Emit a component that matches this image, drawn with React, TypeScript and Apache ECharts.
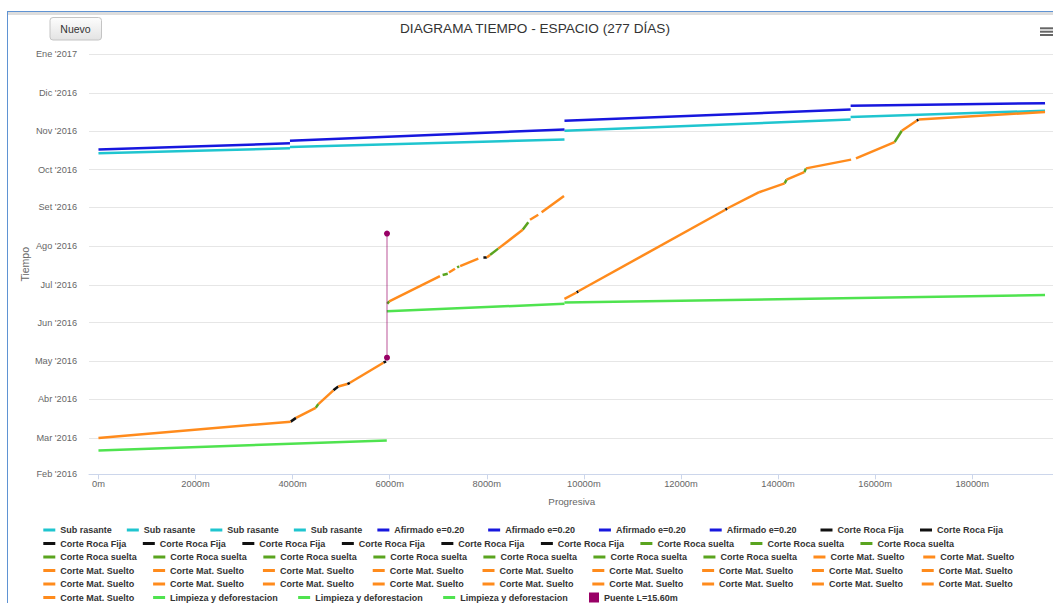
import { useEffect, useRef } from 'react';
import * as echarts from 'echarts';

const FONT = "'Liberation Sans', Arial, sans-serif";

const TITLE = 'DIAGRAMA TIEMPO - ESPACIO (277 DÍAS)';
const BUTTON_LABEL = 'Nuevo';
const X_NAME = 'Progresiva';
const Y_NAME = 'Tiempo';

const X_TICKS = [0, 2000, 4000, 6000, 8000, 10000, 12000, 14000, 16000, 18000];
const Y_TICK_DATES = [
  '2016-02-01', '2016-03-01', '2016-04-01', '2016-05-01', '2016-06-01', '2016-07-01',
  '2016-08-01', '2016-09-01', '2016-10-01', '2016-11-01', '2016-12-01', '2017-01-01',
];
const Y_TICK_LABELS = [
  "Feb '2016", "Mar '2016", "Abr '2016", "May '2016", "Jun '2016", "Jul '2016",
  "Ago '2016", "Set '2016", "Oct '2016", "Nov '2016", "Dic '2016", "Ene '2017",
];

type Pt = [number, string];

const SUB_RASANTE: Pt[][] = [
  [[0, '2016-10-14'], [3945, '2016-10-18']],
  [[3945, '2016-10-19'], [9600, '2016-10-25']],
  [[9600, '2016-11-01'], [15495, '2016-11-10']],
  [[15495, '2016-11-12'], [19500, '2016-11-17']],
];

const AFIRMADO: Pt[][] = [
  [[0, '2016-10-17'], [3945, '2016-10-22']],
  [[3945, '2016-10-24'], [9600, '2016-11-02']],
  [[9600, '2016-11-09'], [15495, '2016-11-18']],
  [[15495, '2016-11-21'], [19500, '2016-11-23']],
];

const ROCA_FIJA: Pt[][] = [
  [[3960, '2016-03-14'], [4070, '2016-03-17']],
  [[4840, '2016-04-08'], [4940, '2016-04-11']],
  [[5125, '2016-04-13'], [5180, '2016-04-14']],
  [[5870, '2016-04-30'], [5925, '2016-05-01']],
  [[7930, '2016-07-23'], [8000, '2016-07-23']],
  [[9850, '2016-06-25'], [9885, '2016-06-26']],
  [[12915, '2016-08-30'], [12950, '2016-08-31']],
  [[16855, '2016-11-09'], [16895, '2016-11-10']],
];

const ROCA_SUELTA: Pt[][] = [
  [[4475, '2016-03-25'], [4530, '2016-03-28']],
  [[5950, '2016-06-16'], [5990, '2016-06-18']],
  [[7090, '2016-07-09'], [7195, '2016-07-10']],
  [[7390, '2016-07-15'], [7430, '2016-07-16']],
  [[8065, '2016-07-25'], [8235, '2016-07-30']],
  [[8740, '2016-08-14'], [8855, '2016-08-20']],
  [[14135, '2016-09-20'], [14175, '2016-09-23']],
  [[14540, '2016-09-29'], [14575, '2016-10-02']],
  [[16400, '2016-10-23'], [16550, '2016-11-01']],
  [[9095, '2016-08-27']],
];

const MAT_SUELTO: Pt[][] = [
  [[0, '2016-03-01'], [3960, '2016-03-14']],
  [[4070, '2016-03-17'], [4475, '2016-03-25']],
  [[4530, '2016-03-28'], [4840, '2016-04-08']],
  [[4940, '2016-04-11'], [5125, '2016-04-13']],
  [[5180, '2016-04-14'], [5870, '2016-04-30']],
  [[5990, '2016-06-18'], [7035, '2016-07-08']],
  [[7220, '2016-07-11'], [7345, '2016-07-14']],
  [[7450, '2016-07-16'], [7825, '2016-07-22']],
  [[8000, '2016-07-23'], [8065, '2016-07-25']],
  [[8235, '2016-07-30'], [8740, '2016-08-14']],
  [[8890, '2016-08-22'], [9060, '2016-08-26']],
  [[9130, '2016-08-28'], [9590, '2016-09-10']],
  [[9600, '2016-06-20'], [9850, '2016-06-25']],
  [[9885, '2016-06-26'], [12915, '2016-08-30']],
  [[12950, '2016-08-31'], [13610, '2016-09-13']],
  [[13610, '2016-09-13'], [14135, '2016-09-20']],
  [[14175, '2016-09-23'], [14540, '2016-09-29']],
  [[14575, '2016-10-02'], [15505, '2016-10-09']],
  [[15605, '2016-10-10'], [16400, '2016-10-23']],
  [[16550, '2016-11-01'], [16855, '2016-11-09']],
  [[16895, '2016-11-10'], [19500, '2016-11-16']],
];

const LIMPIEZA: Pt[][] = [
  [[0, '2016-02-20'], [5940, '2016-02-28']],
  [[5940, '2016-06-10'], [9600, '2016-06-16']],
  [[9600, '2016-06-17'], [19500, '2016-06-23']],
];

const PUENTE_NAME = 'Puente L=15.60m';
const PUENTE: Pt[] = [[5944, '2016-05-04'], [5944, '2016-08-11']];

const GROUPS = [
  { label: 'Sub rasante', color: '#1fc5cf', segs: SUB_RASANTE },
  { label: 'Afirmado e=0.20', color: '#1717de', segs: AFIRMADO },
  { label: 'Corte Roca Fija', color: '#111111', segs: ROCA_FIJA },
  { label: 'Corte Roca suelta', color: '#5aa41f', segs: ROCA_SUELTA },
  { label: 'Corte Mat. Suelto', color: '#ff8b1c', segs: MAT_SUELTO },
  { label: 'Limpieza y deforestacion', color: '#4fe34f', segs: LIMPIEZA },
];

function ts(s: string): number {
  const [y, m, d] = s.split('-').map(Number);
  return new Date(y, m - 1, d).getTime();
}

const toXY = (seg: Pt[]) => seg.map(([x, d]) => [x, ts(d)]);

function buildOption() {
  const series: any[] = [];
  const lineNames: string[] = [];
  GROUPS.forEach((g) => {
    g.segs.forEach((seg, i) => {
      const name = `${g.label}#${i + 1}`;
      lineNames.push(name);
      series.push({
        type: 'line',
        name,
        data: toXY(seg),
        showSymbol: false,
        symbol: 'none',
        lineStyle: { color: g.color, width: 2.5 },
        itemStyle: { color: g.color },
        emphasis: { disabled: true },
        silent: true,
      });
    });
  });
  series.push({
    type: 'line',
    name: PUENTE_NAME,
    data: toXY(PUENTE),
    showSymbol: true,
    symbol: 'circle',
    symbolSize: 6,
    lineStyle: { color: 'rgba(153,0,102,0.45)', width: 1.5 },
    itemStyle: { color: '#990066' },
    emphasis: { disabled: true },
    silent: true,
    z: 5,
  });

  const base = (n: string) => n.split('#')[0];
  const PAD: Record<string, number> = {
    'Afirmado e=0.20': 9,
    'Corte Roca Fija': 1.5,
    'Corte Roca suelta': 1.5,
    'Corte Mat. Suelto': 3.8,
    'Limpieza y deforestacion': 5.5,
  };
  const rows = [10, 9, 9, 9, 9, 4];
  const rowCenters = [530, 543.5, 557, 570.5, 584, 597.5];
  const legendText = { fontSize: 9, fontWeight: 'bold', color: '#333333', fontFamily: FONT };
  let k = 0;
  const legends: any[] = rows.map((cnt, r) => {
    const names = lineNames.slice(k, k + cnt);
    k += cnt;
    return {
      orient: 'horizontal',
      left: 35.3,
      top: rowCenters[r] - 4.5,
      width: 1015,
      padding: 0,
      itemWidth: 12,
      itemHeight: 3,
      itemGap: 15,
      icon: 'rect',
      selectedMode: false,
      formatter: base,
      itemStyle: { borderWidth: 0 },
      textStyle: legendText,
      data: names.map((n) => ({
        name: n,
        textStyle: { padding: [0, PAD[base(n)] || 0, 0, 0], backgroundColor: 'rgba(255,255,255,0)' },
      })),
    };
  });
  legends.push({
    orient: 'horizontal',
    left: 581,
    top: 597.5 - 5,
    padding: 0,
    itemWidth: 10,
    itemHeight: 10,
    icon: 'rect',
    selectedMode: false,
    textStyle: legendText,
    data: [{ name: PUENTE_NAME, itemStyle: { color: '#990066', borderWidth: 0 } }],
  });

  const tickTs = Y_TICK_DATES.map(ts);
  const yLabel = (v: number) => {
    let best = 0;
    tickTs.forEach((t, i) => {
      if (Math.abs(t - v) < Math.abs(tickTs[best] - v)) best = i;
    });
    return Y_TICK_LABELS[best];
  };

  return {
    animation: false,
    textStyle: { fontFamily: FONT },
    title: {
      text: TITLE,
      left: 'center',
      top: 21,
      padding: 0,
      textStyle: { fontSize: 13.6, fontWeight: 'normal', color: '#333333', fontFamily: FONT },
    },
    legend: legends,
    grid: { left: 81, right: 7.5, top: 54.3, bottom: 128.7, containLabel: false, outerBoundsMode: 'none' },
    xAxis: {
      type: 'value',
      min: -195,
      max: 19695,
      position: 'bottom',
      name: X_NAME,
      nameLocation: 'middle',
      nameGap: 22.5,
      nameMoveOverlap: false,
      nameTextStyle: { fontSize: 9.8, color: '#666666', fontFamily: FONT },
      axisLine: { show: true, onZero: false, lineStyle: { color: '#ccd6eb', width: 1 } },
      axisTick: { show: true, customValues: X_TICKS, length: 5, lineStyle: { color: '#ccd6eb' } },
      axisLabel: {
        customValues: X_TICKS,
        formatter: (v: number) => `${v}m`,
        fontSize: 9.3,
        color: '#666666',
        margin: 5,
        fontFamily: FONT,
      },
      splitLine: { show: false },
    },
    yAxis: {
      type: 'value',
      min: tickTs[0],
      max: tickTs[tickTs.length - 1],
      name: Y_NAME,
      nameLocation: 'middle',
      nameGap: 59,
      nameMoveOverlap: false,
      nameTextStyle: { fontSize: 10.5, color: '#666666', fontFamily: FONT },
      axisLine: { show: false },
      axisTick: { show: false, customValues: tickTs },
      axisLabel: {
        customValues: tickTs,
        formatter: yLabel,
        fontSize: 9.2,
        color: '#666666',
        margin: 12,
        padding: [0, 0, 2, 0],
        fontFamily: FONT,
      },
      splitLine: { show: true, lineStyle: { color: '#e6e6e6', width: 1 } },
    },
    graphic: [
      {
        type: 'rect',
        shape: { x: 42, y: 17.5, width: 51.5, height: 22.5, r: 3 },
        style: {
          fill: new echarts.graphic.LinearGradient(0, 0, 0, 1, [
            { offset: 0, color: '#fdfdfd' },
            { offset: 1, color: '#e3e3e3' },
          ]),
          stroke: '#c4c4c4',
          lineWidth: 1,
        },
        silent: true,
      },
      {
        type: 'text',
        x: 67.5,
        y: 28.7,
        style: {
          text: BUTTON_LABEL,
          fontSize: 10.5,
          fontFamily: FONT,
          fill: '#333333',
          align: 'center',
          verticalAlign: 'middle',
          textAlign: 'center',
          textVerticalAlign: 'middle',
        },
        silent: true,
      },
      { type: 'rect', shape: { x: 1032, y: 27.3, width: 13, height: 2 }, style: { fill: '#666666' }, silent: true },
      { type: 'rect', shape: { x: 1032, y: 30.7, width: 13, height: 2 }, style: { fill: '#666666' }, silent: true },
      { type: 'rect', shape: { x: 1032, y: 34, width: 13, height: 2 }, style: { fill: '#666666' }, silent: true },
    ],
    series,
  };
}

export default function App() {
  const ref = useRef<HTMLDivElement>(null);
  useEffect(() => {
    if (!ref.current) return;
    const chart = echarts.init(ref.current, undefined, { renderer: 'svg' });
    chart.setOption(buildOption() as any);
    return () => chart.dispose();
  }, []);
  return (
    <div
      style={{
        position: 'fixed',
        left: 0,
        top: 0,
        width: 1053,
        height: 603,
        overflow: 'hidden',
        background: '#ffffff',
      }}
    >
      <div ref={ref} style={{ position: 'absolute', left: 8, top: 0, width: 1054, height: 603 }} />
      <div style={{ position: 'absolute', left: 7, top: 11, width: 1, height: 592, background: '#5f93d3' }} />
      <div style={{ position: 'absolute', left: 7, top: 11, width: 1046, height: 1, background: '#5f93d3' }} />
      <div style={{ position: 'absolute', left: 8, top: 12, width: 1045, height: 3, background: '#dddddd' }} />
    </div>
  );
}
